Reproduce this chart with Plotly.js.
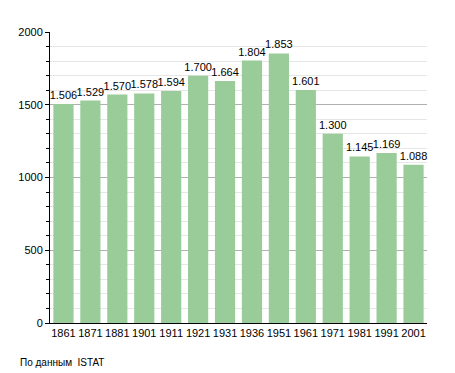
<!DOCTYPE html>
<html><head><meta charset="utf-8">
<script src="https://cdn.plot.ly/plotly-3.0.1.min.js"></script>
<style>body{margin:0;background:#fff}#c{width:455px;height:373px}</style>
</head><body><div id="c"></div>
<script>
const years = ['1861','1871','1881','1901','1911','1921','1931','1936','1951','1961','1971','1981','1991','2001'];
const population = [1506,1529,1570,1578,1594,1700,1664,1804,1853,1601,1300,1145,1169,1088];
const yTicks = [0,500,1000,1500,2000];
const sourceNote = 'По данным  ISTAT';

const font = {family:'Liberation Sans, Arial, sans-serif', size:11, color:'#000'};
Plotly.newPlot('c', [{
  type:'bar', x:years, y:population,
  marker:{color:'#99cc99'},
  texttemplate:'%{y:,}', textposition:'outside', cliponaxis:false, constraintext:'none',
  textfont:{family:font.family, size:11, color:'#000'},
  hoverinfo:'skip'
}], {
  width:455, height:373,
  margin:{l:50, r:28, t:32, b:50},
  separators:',.',
  bargap:0.25,
  font:font,
  paper_bgcolor:'#fff', plot_bgcolor:'#fff',
  showlegend:false,
  xaxis:{type:'category', showline:true, linecolor:'#000', linewidth:1, ticks:'', tickfont:{size:11}, fixedrange:true},
  yaxis:{range:[0,2000], tickvals:yTicks, showline:true, linecolor:'#000', linewidth:1,
    ticks:'outside', ticklen:4, tickcolor:'#000',
    gridcolor:'#b0b0b0', gridwidth:1, zeroline:false, tickfont:{size:11},
    minor:{dtick:100, showgrid:true, gridcolor:'#e6e6e6', ticks:'outside', ticklen:3, tickcolor:'#000'}},
  annotations:[{text:sourceNote, xref:'paper', yref:'paper', x:-0.085, y:-0.11, xanchor:'left', yanchor:'top', showarrow:false, font:{size:10, color:'#000'}}]
}, {staticPlot:true});
</script></body></html>
